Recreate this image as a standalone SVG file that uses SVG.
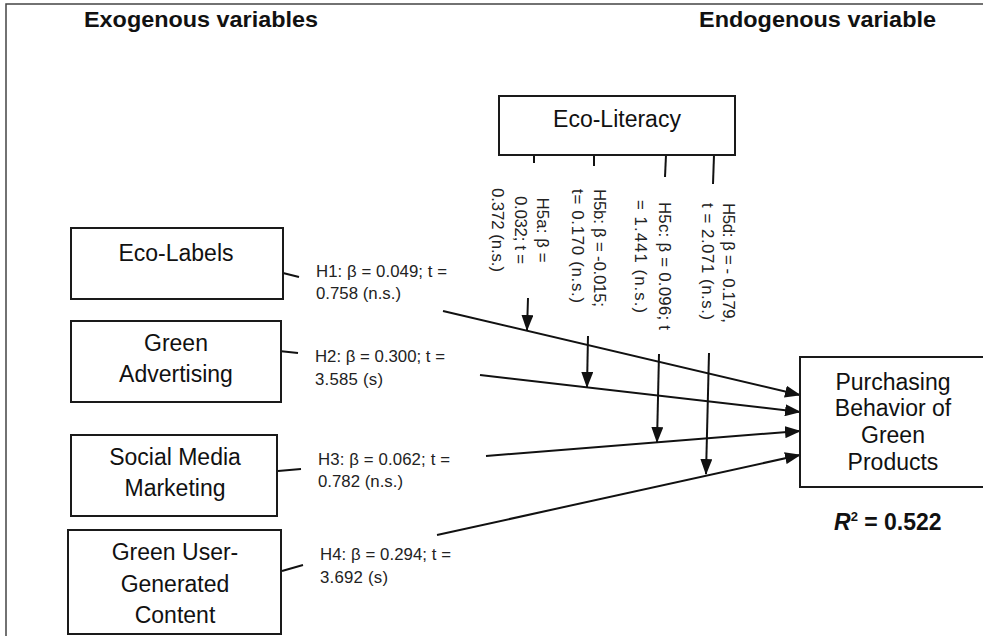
<svg xmlns="http://www.w3.org/2000/svg" width="983" height="636" viewBox="0 0 983 636">
<style>
.box{fill:#fff;stroke:#1a1a1a;stroke-width:2}
.bt{font-family:"Liberation Sans",Arial,sans-serif;font-size:23px;fill:#111;text-anchor:middle}
.lb{font-family:"Liberation Sans",Arial,sans-serif;font-size:16.8px;fill:#222}
.ttl{font-family:"Liberation Sans",Arial,sans-serif;font-size:22px;font-weight:bold;fill:#111}
.ln{stroke:#111;stroke-width:2;fill:none}
.ar{stroke:#111;stroke-width:2;fill:none;marker-end:url(#ah)}
.frame{stroke:#444;stroke-width:1.5;fill:none}
</style>
<defs>
<marker id="ah" markerUnits="userSpaceOnUse" markerWidth="16" markerHeight="12" refX="15" refY="6" orient="auto">
<path d="M0,0 L16,6 L0,12 Z" fill="#111"/>
</marker>
</defs>
<rect width="983" height="636" fill="#fff"/>
<path class="frame" d="M6,636 V4 H983"/>
<text class="ttl" x="84" y="27" textLength="234" lengthAdjust="spacingAndGlyphs">Exogenous variables</text>
<text class="ttl" x="699" y="27" textLength="237" lengthAdjust="spacingAndGlyphs">Endogenous variable</text>

<g id="connectors">
<path class="ln" d="M283,273 L299,277"/>
<path class="ar" d="M443,311 L800,395"/>
<path class="ln" d="M279,351 L298,353"/>
<path class="ar" d="M480,375 L800,412"/>
<path class="ln" d="M278,471 L301,469"/>
<path class="ar" d="M486,456 L800,431"/>
<path class="ln" d="M282,571 L303,565"/>
<path class="ar" d="M437,535 L800,455"/>
<path class="ln" d="M534,155 L534,163"/>
<path class="ar" d="M528,298 L527,330"/>
<path class="ln" d="M594,155 L594,166"/>
<path class="ar" d="M588,336 L587,387"/>
<path class="ln" d="M666,155 L665,177"/>
<path class="ar" d="M659,354 L657,442"/>
<path class="ln" d="M714,155 L713,184"/>
<path class="ar" d="M709,353 L706,474"/>
</g>

<g id="eco-literacy">
<rect class="box" x="499" y="96" width="236" height="59"/>
<text class="bt" x="617" y="127">Eco-Literacy</text>
</g>
<g id="eco-labels">
<rect class="box" x="71" y="228" width="212" height="71"/>
<text class="bt" x="176" y="261">Eco-Labels</text>
</g>
<g id="green-advertising">
<rect class="box" x="71" y="321" width="210" height="81"/>
<text class="bt" x="176" y="351">Green</text>
<text class="bt" x="176" y="382">Advertising</text>
</g>
<g id="social-media-marketing">
<rect class="box" x="71" y="435" width="206" height="81"/>
<text class="bt" x="175" y="465">Social Media</text>
<text class="bt" x="175" y="496">Marketing</text>
</g>
<g id="green-ugc">
<rect class="box" x="68" y="530" width="213" height="104"/>
<text class="bt" x="175" y="560">Green User-</text>
<text class="bt" x="175" y="592">Generated</text>
<text class="bt" x="175" y="623">Content</text>
</g>
<g id="purchasing-behavior">
<rect class="box" x="800" y="357" width="190" height="130"/>
<text class="bt" x="893" y="390">Purchasing</text>
<text class="bt" x="893" y="416">Behavior of</text>
<text class="bt" x="893" y="443">Green</text>
<text class="bt" x="893" y="470">Products</text>
<text x="834" y="530" style="font-family:'Liberation Sans',Arial,sans-serif;font-size:23px;font-weight:bold;fill:#111"><tspan font-style="italic">R</tspan><tspan font-size="13" dy="-9">2</tspan><tspan dy="9"> = 0.522</tspan></text>
</g>

<g id="labels">
<text class="lb" x="316" y="277" textLength="131" lengthAdjust="spacing">H1: β = 0.049; t =</text>
<text class="lb" x="316" y="299" textLength="85" lengthAdjust="spacing">0.758 (n.s.)</text>
<text class="lb" x="315" y="362" textLength="130" lengthAdjust="spacing">H2: β = 0.300; t =</text>
<text class="lb" x="315" y="385" textLength="68" lengthAdjust="spacing">3.585 (s)</text>
<text class="lb" x="318" y="465" textLength="132" lengthAdjust="spacing">H3: β = 0.062; t =</text>
<text class="lb" x="318" y="487" textLength="85" lengthAdjust="spacing">0.782 (n.s.)</text>
<text class="lb" x="320" y="560" textLength="131" lengthAdjust="spacing">H4: β = 0.294; t =</text>
<text class="lb" x="320" y="583" textLength="68" lengthAdjust="spacing">3.692 (s)</text>

<g transform="translate(536.5,230) rotate(90)">
<text class="lb" x="0" y="0" text-anchor="middle" textLength="65" lengthAdjust="spacing">H5a: β =</text>
<text class="lb" x="0" y="22" text-anchor="middle" textLength="68" lengthAdjust="spacing">0.032; t =</text>
<text class="lb" x="0" y="45" text-anchor="middle" textLength="84" lengthAdjust="spacing">0.372 (n.s.)</text>
</g>
<g transform="translate(593.5,189) rotate(90)">
<text class="lb" x="0" y="0" textLength="118" lengthAdjust="spacing">H5b: β = -0.015;</text>
<text class="lb" x="0" y="22" textLength="114" lengthAdjust="spacing">t= 0.170 (n.s.)</text>
</g>
<g transform="translate(658.5,202) rotate(90)">
<text class="lb" x="0" y="0" textLength="128" lengthAdjust="spacing">H5c: β = 0.096; t</text>
<text class="lb" x="-2" y="24" textLength="113" lengthAdjust="spacing">= 1.441 (n.s.)</text>
</g>
<g transform="translate(722.5,203) rotate(90)">
<text class="lb" x="0" y="0" textLength="120" lengthAdjust="spacing">H5d: β = - 0.179,</text>
<text class="lb" x="0" y="21" textLength="117" lengthAdjust="spacing">t = 2.071 (n.s.)</text>
</g>
</g>
</svg>
